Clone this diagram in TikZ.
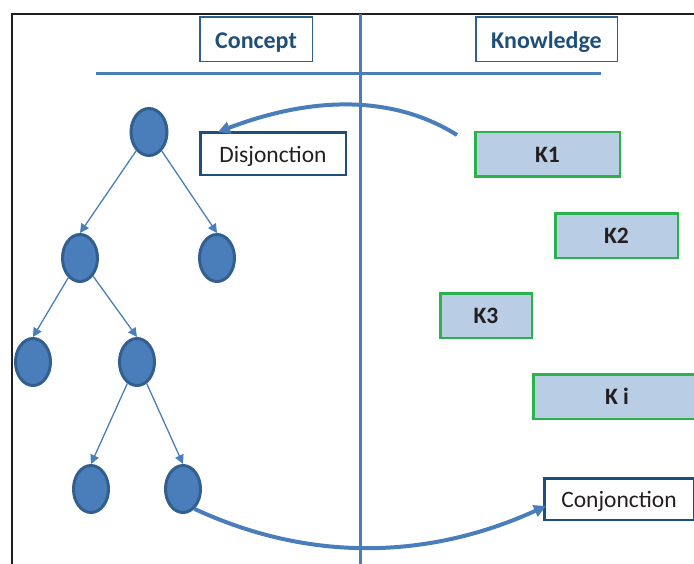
\documentclass[tikz,border=0pt]{standalone}
\usepackage{fontspec}
\setmainfont{Carlito}
\usetikzlibrary{arrows.meta,shapes.geometric,calc}
\definecolor{frameC}{HTML}{231F20}
\definecolor{lineB}{HTML}{4A7EBB}
\definecolor{ellB}{HTML}{4A7EBB}
\definecolor{ellD}{HTML}{335F8F}
\definecolor{navy}{HTML}{1F4E79}
\definecolor{hdrB}{HTML}{2E5E8E}
\definecolor{kfill}{HTML}{B9CDE5}
\definecolor{kgreen}{HTML}{2BB24C}
\definecolor{txt}{HTML}{231F20}
\begin{document}
\begin{tikzpicture}[x=1pt,y=-1pt,
 hdr/.style={draw=hdrB, line width=1.5pt, text=navy, font=\fontsize{24}{28}\selectfont\bfseries, minimum height=44.5pt, inner sep=0pt, text height=18.5pt, text depth=0pt},
 lbl/.style={draw=navy, line width=2.5pt, text=txt, font=\fontsize{23.5}{28}\selectfont, inner sep=0pt, text height=17.5pt, text depth=0pt},
 kbox/.style={draw=kgreen, fill=kfill, line width=2.5pt, text=txt, font=\fontsize{23.5}{28}\selectfont\bfseries, minimum height=44.5pt, inner sep=0pt, text height=16.5pt, text depth=0pt},
 cnode/.style={ellipse, draw=ellD, fill=ellB, line width=3pt, minimum width=35pt, minimum height=47pt, inner sep=0pt},
 tarrow/.style={draw=lineB, line width=1.3pt, -{Triangle[length=9pt,width=9pt]}},
 bigarrow/.style={draw=lineB, line width=4pt, -{Triangle[length=12pt,width=12pt]}},
 divider/.style={draw=lineB, line width=3pt},
]
\useasboundingbox (0,0) rectangle (694,563);
\clip (0,0) rectangle (694,563);
% frame
\draw[frameC, line width=2pt] (12,600) -- (12,14) -- (720,14);
% dividers
\coordinate (vtop) at (360,14);
\coordinate (vbot) at (360,600);
\coordinate (hl) at (96,73);
\coordinate (hr) at (601,73);
\draw[divider] (vtop) -- (vbot);
\draw[divider] (hl) -- (hr);
% headers
\node[hdr, minimum width=112.5pt] (concept) at (256,39) {Concept};
\node[hdr, minimum width=141.5pt] (knowledge) at (546.5,39) {Knowledge};
% labels
\node[lbl, minimum width=145.5pt, minimum height=42.5pt] (disj) at (273,153.5) {Disjonction};
\node[lbl, minimum width=149.5pt, minimum height=41.5pt] (conj) at (619,499) {Conjonction};
% knowledge boxes
\node[kbox, minimum width=144.5pt] (k1) at (547.5,154) {K1};
\node[kbox, minimum width=122.5pt] (k2) at (616.5,235.5) {K2};
\node[kbox, minimum width=91.5pt] (k3) at (486,315.5) {K3};
\node[kbox, minimum width=167.5pt] (ki) at (617,396.5) {K i};
% tree
\node[cnode, minimum width=36pt] (root) at (149,132) {};
\node[cnode] (l2a) at (80,258) {};
\node[cnode] (l2b) at (217,258) {};
\node[cnode] (l3a) at (33,362) {};
\node[cnode] (l3b) at (137,362) {};
\node[cnode] (l4a) at (91,489) {};
\node[cnode] (l4b) at (183,489) {};
\draw[tarrow] (root) -- (l2a.north);
\draw[tarrow] (root) -- (l2b.north);
\draw[tarrow] (l2a) -- (l3a.north);
\draw[tarrow] (l2a) -- (l3b.north);
\draw[tarrow] (l3b) -- (l4a.north);
\draw[tarrow] (l3b) -- (l4b.north);
% curves
\coordinate (dstart) at (457,135);
\draw[bigarrow] (dstart) .. controls (395,96) and (315,95) .. ($(disj.north west)+(19,1)$);
\draw[bigarrow] (l4b.-60) .. controls (309,562) and (427,560) .. ($(conj.west)+(3,7)$);
\end{tikzpicture}
\end{document}
